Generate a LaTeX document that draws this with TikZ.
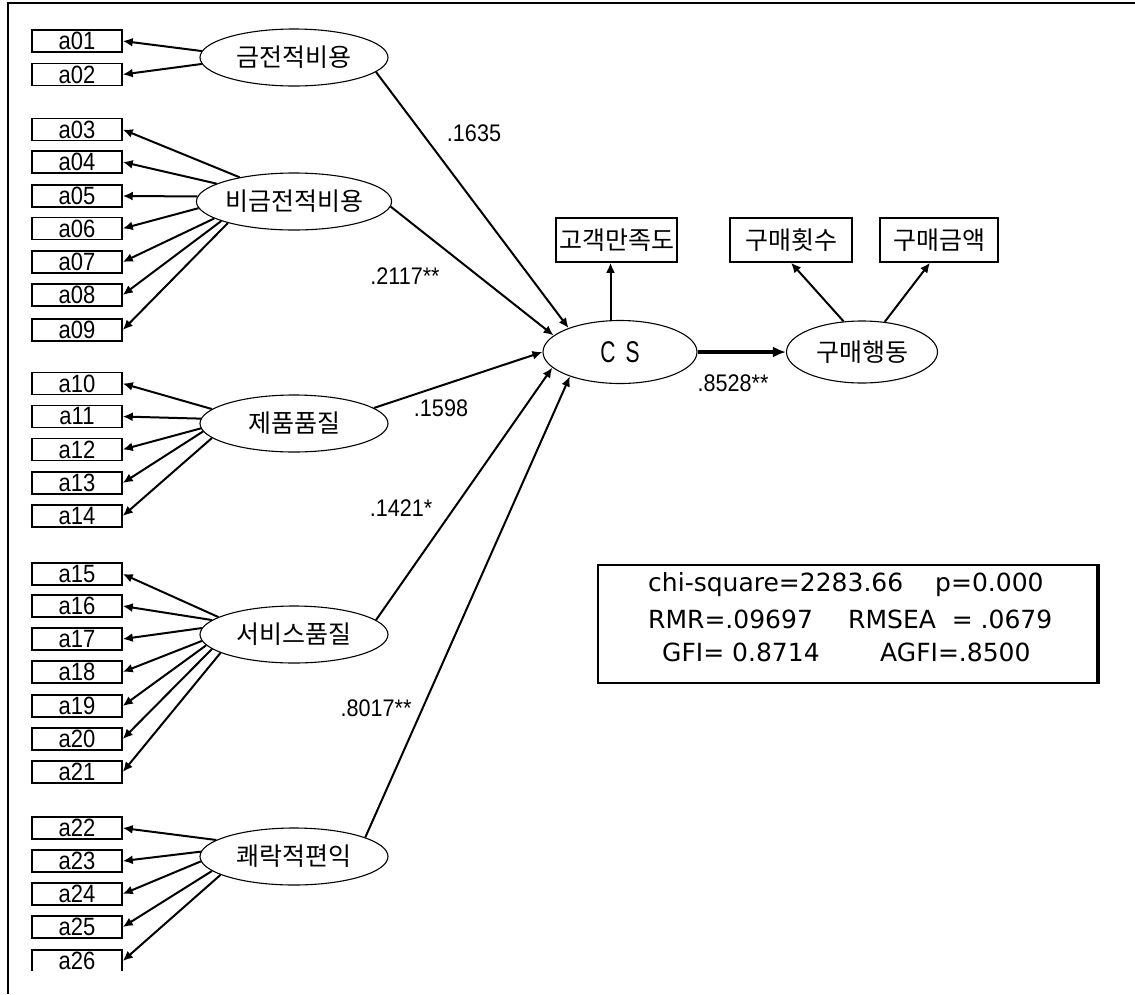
\documentclass[tikz,border=0pt]{standalone}
\usepackage{fontspec}
\setmainfont{Liberation Sans}
\newfontfamily\kr{Noto Sans CJK KR}
\newfontfamily\tall[FakeStretch=0.7]{Liberation Sans}
\newfontfamily\boxfont[FakeStretch=0.88]{Liberation Sans}
\newfontfamily\coeffont[FakeStretch=0.9]{Liberation Sans}
\newfontfamily\fitfont{DejaVu Sans}
\usetikzlibrary{arrows.meta,shapes.geometric}
\begin{document}
\begin{tikzpicture}[x=1pt,y=-1pt,
  ind/.style={draw, line width=1.5pt, minimum width=90pt, minimum height=22pt, inner sep=0pt,
    font=\boxfont\fontsize{25}{25}\selectfont},
  lat/.style={draw, ellipse, line width=1.1pt, minimum width=188pt, minimum height=57pt, inner sep=0pt,
    font=\kr\fontsize{25}{25}\selectfont},
  obs/.style={draw, line width=1.5pt, minimum height=44pt, inner sep=0pt,
    font=\kr\fontsize{25}{25}\selectfont},
  arr/.style={-{Latex[length=10pt,width=9pt]}, line width=2pt},
  coef/.style={font=\coeffont\fontsize{24}{24}\selectfont, inner sep=0pt},
  fittext/.style={font=\fitfont\fontsize{25}{25}\selectfont, inner sep=0pt, anchor=west}]
\useasboundingbox (0,0) rectangle (1135,994);
\fill[white] (0,0) rectangle (1135,994);
% frame (cropped)
\draw[line width=1.3pt] (8,994) -- (8,3) -- (1135,3);

% indicator boxes
\foreach \n/\y in {01/41,02/74.5,03/129.5,04/162,05/196,06/228.5,07/262,08/295,09/330,
  10/383.5,11/416.5,12/449.5,13/483,14/516,
  15/574,16/606,17/639,18/672,19/706,20/739,21/772,
  22/828,23/861,24/894,25/927}
  \node[ind] (a\n) at (77,\y) {a\n};
\begin{scope}
  \clip (0,0) rectangle (1135,970.5);
  \node[ind] (a26) at (77,961) {a26};
\end{scope}

% latent variables
\node[lat] (L1) at (294,57.5) {금전적비용};
\node[lat] (L2) at (294,201.5) {비금전적비용};
\node[lat] (L3) at (294,423.5) {제품품질};
\node[lat] (L4) at (294,634.5) {서비스품질};
\node[lat] (L5) at (294,856.5) {쾌락적편익};

\node[draw, ellipse, line width=1.1pt, minimum width=154pt, minimum height=63pt, inner sep=0pt,
  font=\tall\fontsize{30}{30}\selectfont] (cs) at (620,352) {C\,\,S};
\node[lat, minimum width=151pt, minimum height=62pt] (bh) at (862,352) {구매행동};

\node[obs, minimum width=121pt] (gk) at (616.5,240) {고객만족도};
\node[obs, minimum width=122pt] (gh) at (791,240) {구매횟수};
\node[obs, minimum width=118pt] (gm) at (939,240) {구매금액};

% measurement arrows
\foreach \a/\t in {01/176,02/184} \draw[arr] (L1.\t) -- (a\a.east);
\foreach \a/\t in {03/156,04/167,05/177,06/184,07/192,08/195,09/198} \draw[arr] (L2.\t) -- (a\a.east);
\foreach \a/\t in {10/170,11/177,12/183,13/185,14/190} \draw[arr] (L3.\t) -- (a\a.east);
\foreach \a/\t in {15/167,16/170,17/176,18/184,19/187,20/190,21/194} \draw[arr] (L4.\t) -- (a\a.east);
\foreach \a/\t in {22/168,23/177,24/183,25/190} \draw[arr] (L5.\t) -- (a\a.east);
\begin{scope}
  \clip (0,0) rectangle (1135,970.5);
  \draw[arr] (L5.194) -- (a26.east);
\end{scope}

% structural arrows
\draw[arr] (L1.350) -- (cs.155);
\draw[arr] (L2.357) -- (cs.166);
\draw[arr] (L3.11) -- (cs.180);
\draw[arr] (L4.10) -- (cs.193);
\draw[arr] (L5.15) -- (cs.206);

\draw[arr] ([xshift=-6pt]gk.south |- cs.north) -- ([xshift=-6pt]gk.south);
\draw[arr] (bh.121) -- (gh.south);
\draw[arr] (bh.53) -- ([xshift=-9pt]gm.south);
\draw[-{Latex[length=13pt,width=11pt]}, line width=3.2pt] (cs.east) -- (bh.west);

% coefficients
\node[coef] (c1) at (474,133) {.1635};
\node[coef] (c2) at (405,276) {.2117**};
\node[coef] (c3) at (441,408) {.1598};
\node[coef] (c4) at (401,508) {.1421*};
\node[coef] (c5) at (376,708) {.8017**};
\node[coef] (c6) at (733,383) {.8528**};

% fit indices
\node[draw, line width=2pt, minimum width=499pt, minimum height=118pt, inner sep=0pt] (fit) at (847.5,624) {};
\draw[line width=2pt] ([xshift=1pt]fit.north east) -- ([xshift=1pt,yshift=1pt]fit.south east) -- ([yshift=1pt]fit.south west);
\node[fittext] (f1) at (648,585) {chi-square=2283.66};
\node[fittext] (f2) at (935,585) {p=0.000};
\node[fittext] (f3) at (648,619) {RMR=.09697};
\node[fittext] (f4) at (848,619) {RMSEA\ \ =\ .0679};
\node[fittext] (f5) at (662,652) {GFI=\ 0.8714};
\node[fittext] (f6) at (880,652) {AGFI=.8500};
\end{tikzpicture}
\end{document}
